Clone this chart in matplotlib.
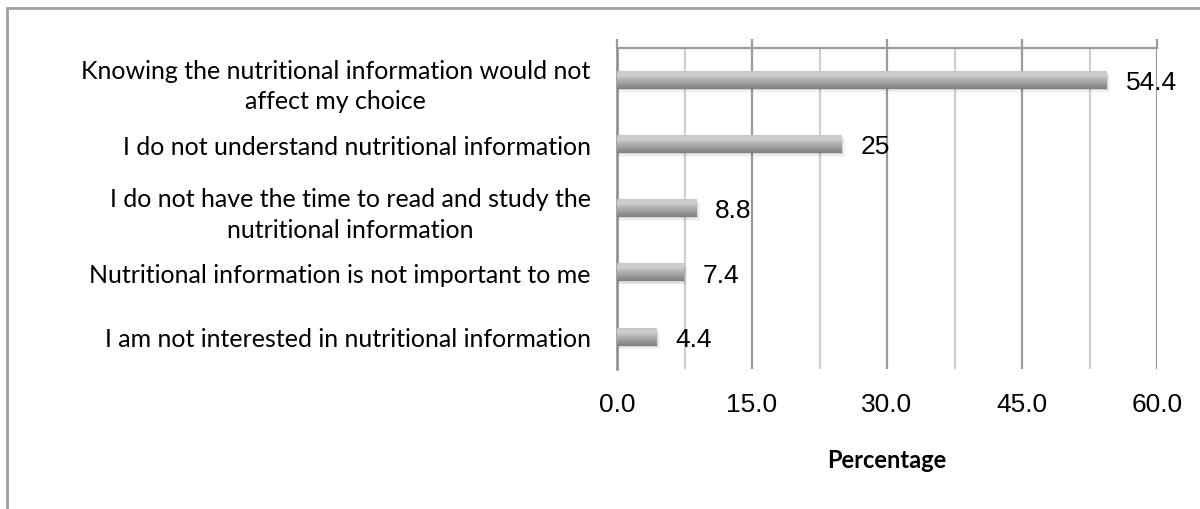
import numpy as np
import matplotlib
matplotlib.use("Agg")
import matplotlib.pyplot as plt
from matplotlib.colors import LinearSegmentedColormap
from matplotlib.patches import Rectangle
from matplotlib.ticker import MultipleLocator, FormatStrFormatter

# survey answers, top to bottom
reasons = [
    "Knowing the nutritional information would not\naffect my choice",
    "I do not understand nutritional information",
    "I do not have the time to read and study the\nnutritional information",
    "Nutritional information is not important to me",
    "I am not interested in nutritional information",
]
percentages = [54.4, 25, 8.8, 7.4, 4.4]
value_labels = ["54.4", "25", "8.8", "7.4", "4.4"]

W, H = 1200, 510
fig = plt.figure(figsize=(W / 100, H / 100), dpi=100)
ax = fig.add_axes([617 / W, 1 - 370 / H, 540 / W, 321 / H])

# grey frame round the chart area (runs off the right and bottom edges)
fig.patches.append(Rectangle((6.5 / W, -0.05), 1.1, 1 - 9 / H + 0.05,
                             transform=fig.transFigure, fill=False,
                             edgecolor="#a0a0a0", linewidth=2, zorder=0))

ypos = np.arange(len(reasons))
bar_h = 0.27
bars = ax.barh(ypos, percentages, height=bar_h, color="none",
               edgecolor="none", zorder=3)

# cylinder-style shading: light at the top, darker towards the bottom
shade = LinearSegmentedColormap.from_list(
    "shade", [(0.0, "#c6c6c6"), (0.2, "#d2d2d2"), (0.55, "#ababab"),
              (0.9, "#888888"), (1.0, "#7e7e7e")])
grad = np.linspace(0, 1, 64).reshape(-1, 1)

for bar in bars:
    x0, y0, w, h = bar.get_x(), bar.get_y(), bar.get_width(), bar.get_height()
    # soft drop shadow under each bar
    for k, a in enumerate([0.08, 0.05, 0.03]):
        ax.add_patch(Rectangle((x0, y0 + 0.02 + k * 0.02), w + 0.15 + k * 0.12, h,
                               facecolor="#000000", alpha=a, edgecolor="none",
                               zorder=2))
    ax.imshow(grad, cmap=shade, aspect="auto", origin="upper",
              extent=(x0, x0 + w, y0 + h, y0), zorder=3, interpolation="bilinear")

for y, v, txt in zip(ypos, percentages, value_labels):
    ax.text(v + 2.1, y + 0.03, txt, va="center", ha="left",
            fontsize=19, family="Liberation Sans", color="#000000", zorder=4)

ax.set_xlim(0, 60)
ax.set_ylim(len(reasons) - 0.5, -0.5)

ax.xaxis.set_major_locator(MultipleLocator(15))
ax.xaxis.set_minor_locator(MultipleLocator(7.5))
ax.xaxis.set_major_formatter(FormatStrFormatter("%.1f"))
ax.grid(which="major", axis="x", color="#9a9a9a", linewidth=1.6, zorder=1)
ax.grid(which="minor", axis="x", color="#cfcfcf", linewidth=1.6, zorder=1)
ax.set_axisbelow(True)

ax.tick_params(axis="x", which="major", top=True, bottom=False,
               labeltop=False, labelbottom=True, direction="out",
               length=6.5, width=1.6, color="#9a9a9a", pad=10,
               labelsize=19)
ax.tick_params(axis="x", which="minor", top=False, bottom=False)
for lab in ax.get_xticklabels():
    lab.set_family("Liberation Sans")

ax.set_yticks(ypos)
ax.set_yticklabels(reasons, fontsize=18, family="Lato", linespacing=1.38)
for lab in ax.get_yticklabels():
    lab.set_multialignment("center")
ax.tick_params(axis="y", length=0, pad=19)

for side in ["right", "bottom"]:
    ax.spines[side].set_visible(False)
ax.spines["top"].set_color("#9a9a9a")
ax.spines["top"].set_linewidth(1.6)
ax.spines["left"].set_color("#8a8a8a")
ax.spines["left"].set_linewidth(1.8)

ax.set_xlabel("Percentage", fontsize=17, fontweight="bold", family="Lato",
              labelpad=23)

fig.savefig("out.png", dpi=100)
